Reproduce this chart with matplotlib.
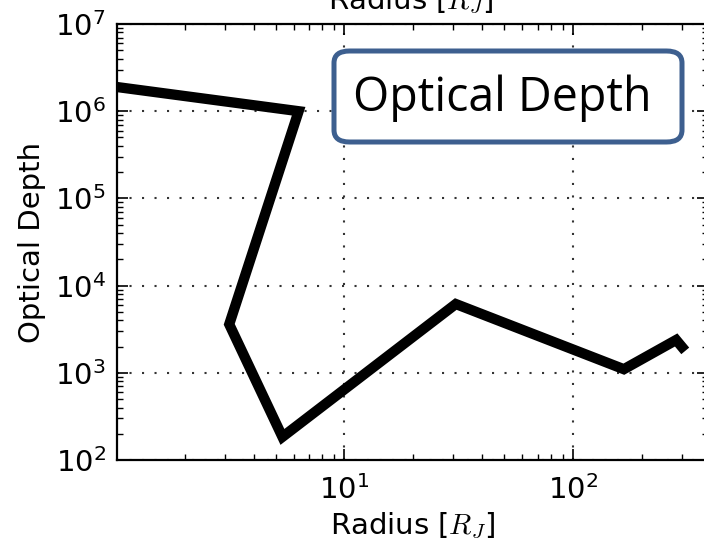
import matplotlib.pyplot as plt
from matplotlib.patches import FancyBboxPatch

plt.rcParams["mathtext.fontset"] = "cm"

# values
radius = [1.0, 6.3, 3.13, 5.35, 30.7, 167, 283, 300]
optical_depth = [1.9e6, 1.0e6, 3.6e3, 184, 6.15e3, 1.1e3, 2.38e3, 1.98e3]

x_limits = (1.01, 390)
y_limits = (1e2, 1e7)
x_label = "Radius [$R_J$]"
y_label = "Optical Depth"
box_text = "Optical Depth"

W, H = 704, 542
fig = plt.figure(figsize=(W / 100, H / 100), dpi=100)
fig.patch.set_facecolor("white")

ax = fig.add_axes([117 / W, 1 - 460 / H, (708 - 117) / W, (460 - 24) / H])
ax.plot(radius, optical_depth, color="black", lw=7.4, solid_joinstyle="miter")
ax.set_xscale("log")
ax.set_yscale("log")
ax.set_xlim(*x_limits)
ax.set_ylim(*y_limits)

ax.grid(True, which="major", color="#333333", linestyle=(0, (1, 5)), lw=1.5)
ax.tick_params(which="both", direction="in", top=True, right=True,
               labelsize=21, colors="black")
ax.tick_params(which="major", length=8, width=1.2, pad=8)
ax.tick_params(axis="x", which="major", pad=11)
ax.tick_params(which="minor", length=4, width=1.0)
for s in ax.spines.values():
    s.set_linewidth(1.6)

ax.set_xlabel(x_label, fontsize=21, labelpad=4)
ax.set_ylabel(y_label, fontsize=21, labelpad=6)

# label of the panel above, cut off at the top edge
fig.text(411 / W, 1 - 1 / H, x_label, fontsize=21, ha="center", va="center")

# rounded annotation box
bx0, by0, bx1, by1 = 334, 51, 682, 142
box = FancyBboxPatch((bx0 / W, 1 - by1 / H), (bx1 - bx0) / W, (by1 - by0) / H,
                     boxstyle="round,pad=0,rounding_size=0.022",
                     transform=fig.transFigure, facecolor="white",
                     edgecolor="#3d5f8f", lw=3.6, zorder=5)
fig.patches.append(box)
fig.text((bx0 + bx1) / 2 / W - 6 / W, 1 - 98 / H, box_text, fontsize=33.5,
         family="Open Sans", ha="center", va="center", zorder=6)

fig.savefig("out.png", dpi=100)
